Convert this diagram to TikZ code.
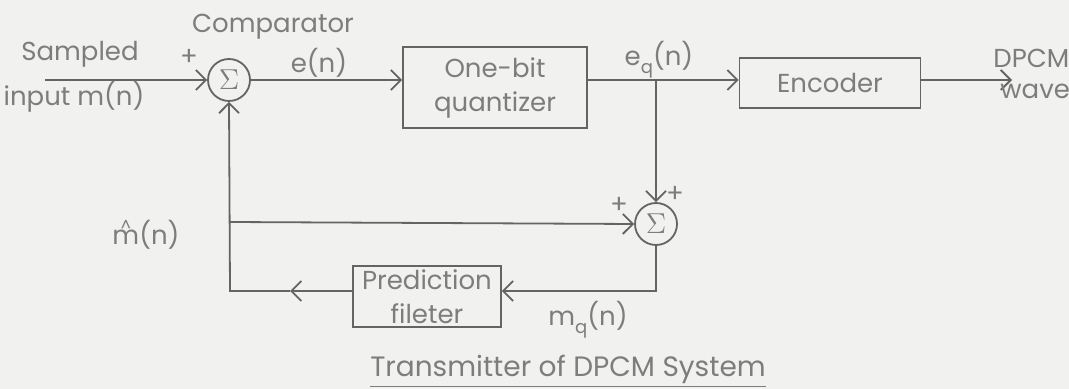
\documentclass[tikz,border=0pt]{standalone}
\usepackage{fontspec}
\setmainfont{Poppins}
\usetikzlibrary{arrows.meta}
\definecolor{dpline}{RGB}{100,100,100}
\definecolor{dptext}{RGB}{125,125,125}
\definecolor{dppaper}{RGB}{241,241,239}

\begin{document}
\begin{tikzpicture}[
    x=0.5pt, y=-0.5pt,
    >={Straight Barb[length=5pt,width=10pt]},
    wire/.style={draw=dpline, line width=0.9pt},
    tag/.style={text=dptext, font=\fontsize{13}{15}\selectfont, inner sep=0pt},
    blk/.style={draw=dpline, line width=0.9pt, rectangle, align=center,
      text=dptext, font=\fontsize{13}{17}\selectfont, inner sep=0pt},
    summer/.style={draw=dpline, line width=0.9pt, circle, minimum size=21pt,
      inner sep=0pt, text=dptext, font=\fontsize{15}{15}\selectfont},
  ]

  % paper
  \useasboundingbox (0,0) rectangle (1069,389);
  \fill[dppaper] (0,0) rectangle (1069,389);

  % blocks
  \node[summer] (sum1) at (229,80) {$\Sigma$};
  \node[blk, minimum width=92pt, minimum height=40.5pt] (quant) at (495,87.5)
    {One-bit\\quantizer};
  \node[blk, minimum width=90.5pt, minimum height=25pt] (enc) at (830,83) {Encoder};
  \node[summer] (sum2) at (656,224) {$\Sigma$};
  \node[blk, minimum width=74pt, minimum height=30.5pt] (pred) at (427,296.5)
    {Prediction\\fileter};

  % end points of the wires
  \coordinate (inp) at (45,80);
  \coordinate (jn) at (656,80);
  \coordinate (outp) at (1012,80);
  \coordinate (tap) at (230,222);
  \coordinate (fbmid) at (290,291);
  \coordinate (fbcorner) at (230,291);

  % forward path
  \draw[wire, ->] (inp) -- (sum1.west);
  \draw[wire, ->] (sum1.east) -- (sum1 -| quant.west);
  \draw[wire] (quant.east |- sum1) -- (jn);
  \draw[wire, ->] (jn) -- (jn -| enc.west);
  \draw[wire, ->] (enc.east |- jn) -- (outp);

  % feedback path
  \draw[wire, ->] (jn) -- (sum2.north);
  \draw[wire, ->] (tap) -- (sum2.west);
  \draw[wire, ->] (sum2.south) |- (pred.east |- fbmid);
  \draw[wire, ->] (pred.west |- fbmid) -- (fbmid);
  \draw[wire, ->] (fbmid) -- (fbcorner) -- (sum1.south);

  % labels
  \node[tag] (lsamp) at (80,54) {Sampled};
  \node[tag] (linp) at (74,97) {input m(n)};
  \node[tag] (lplus1) at (189,57) {+};
  \node[tag] (lcomp) at (273,27) {Comparator};
  \node[tag] (lerr) at (319,63) {e(n)};
  \node[tag] (leq) at (659,60) {e\raisebox{-0.55ex}{\fontsize{9}{9}\selectfont q}(n)};
  \node[tag, anchor=west] (ldpcm) at (993,58) {DPCM};
  \node[tag, anchor=west] (lwave) at (1000,91) {wave};
  \node[tag] (lplus2) at (619,205) {+};
  \node[tag] (lplus3) at (675,194) {+};
  \node[tag] (lmhat) at (146,235)
    {\ooalign{m\cr\hidewidth\raisebox{6.5pt}{\fontsize{8}{8}\selectfont\textasciicircum}\hidewidth\cr}(n)};
  \node[tag] (lmq) at (588,320) {m\raisebox{-0.55ex}{\fontsize{9}{9}\selectfont q}(n)};
  \node[tag, font=\fontsize{14}{16}\selectfont] (lcap) at (568,371)
    {\underline{Transmitter of DPCM System}};

\end{tikzpicture}
\end{document}
